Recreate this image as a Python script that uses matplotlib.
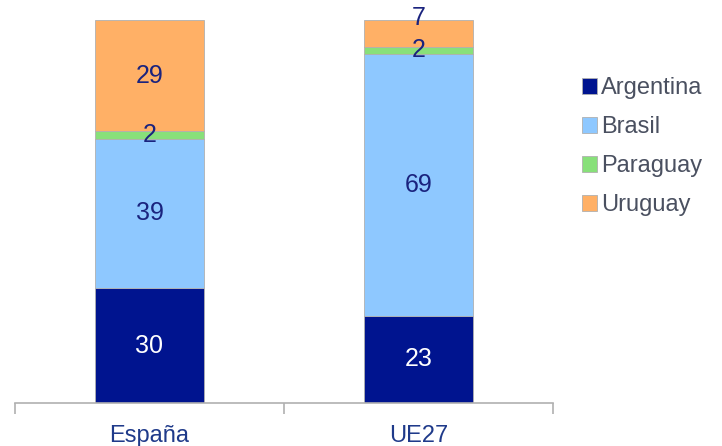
import matplotlib
matplotlib.use("Agg")
import matplotlib.pyplot as plt
import numpy as np

categories = ["España", "UE27"]
series = ["Argentina", "Brasil", "Paraguay", "Uruguay"]
argentina = [30, 23]
brasil = [39, 69]
paraguay = [2, 2]
uruguay = [29, 7]

colors = ["#00148F", "#8EC8FF", "#88E07A", "#FFB066"]
label_colors = ["white", "#1A237E", "#1A237E", "#1A237E"]
# vertical nudge (in points) for crowded labels: (series index, category index) -> offset
label_nudge = {(3, 1): 11}

plt.rcParams['font.family'] = ['Liberation Sans', 'DejaVu Sans']

fig = plt.figure(figsize=(7.22, 4.46), dpi=100)
ax = fig.add_axes([15/722, (446-403)/446, (553-15)/722, (403-20)/446])

data = np.array([argentina, brasil, paraguay, uruguay], dtype=float)
totals = data.sum(axis=0)
pct = data / totals * 100
x = np.arange(len(categories))
bottom = np.zeros(len(categories))
handles = []
for i, name in enumerate(series):
    b = ax.bar(x, pct[i], bottom=bottom, width=0.405, color=colors[i],
               edgecolor="#B0B0B0", linewidth=0.6, label=name)
    handles.append(b)
    for j in range(len(categories)):
        yc = bottom[j] + pct[i][j] / 2
        ax.annotate(f"{int(data[i][j])}", (x[j], yc),
                    xytext=(0, label_nudge.get((i, j), 0)), textcoords="offset points",
                    ha="center", va="center", fontsize=18, color=label_colors[i])
    bottom += pct[i]

ax.set_xlim(-0.5, 1.5)
ax.set_ylim(0, 100)
ax.set_yticks([])
for s in ["top", "right", "left"]:
    ax.spines[s].set_visible(False)
ax.spines["bottom"].set_color("#B0B0B0")
ax.spines["bottom"].set_linewidth(1.2)
ax.set_xticks([-0.5, 0.5, 1.5], minor=False)
ax.set_xticklabels([])
ax.tick_params(axis="x", which="major", length=8, color="#B0B0B0", width=1.2, direction="out")
ax.set_xticks(x, minor=True)
ax.set_xticklabels(categories, minor=True)
ax.tick_params(axis="x", which="minor", length=0, pad=16, labelsize=17, labelcolor="#1F3A8A")

leg = fig.legend(handles=handles, labels=series, loc="upper left",
                 bbox_to_anchor=(582/722, 1 - 77/446), frameon=False,
                 borderaxespad=0, borderpad=0,
                 fontsize=17, handlelength=0.65, handleheight=0.65,
                 handletextpad=0.15, labelspacing=0.72, labelcolor="#4A5060")
for h in leg.legend_handles:
    h.set_edgecolor("#B0B0B0")

fig.savefig("out.png", dpi=100)
